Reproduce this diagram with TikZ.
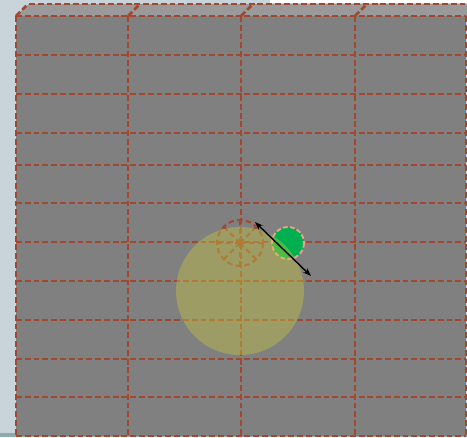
\documentclass[tikz,border=0pt]{standalone}
\usetikzlibrary{arrows.meta}
\definecolor{bgblue}{RGB}{200,211,218}
\definecolor{floorteal}{RGB}{140,172,172}
\definecolor{cellgrey}{RGB}{128,128,128}
\definecolor{topgrey}{RGB}{154,154,154}
\definecolor{brickred}{RGB}{160,72,48}
\definecolor{haloyellow}{RGB}{200,200,60}
\definecolor{markgreen}{RGB}{0,176,80}
\definecolor{rimpink}{RGB}{240,160,140}

\tikzset{
  gridline/.style={brickred, line width=2.3pt, dash pattern=on 5pt off 2.5pt},
  rangeline/.style={brickred, line width=1.8pt, dash pattern=on 4.5pt off 3pt}
}

\begin{document}
\begin{tikzpicture}[x=0.03cm, y=-0.03cm]
        \useasboundingbox (0,0) rectangle (467,437);
        % Background
        \fill[bgblue] (0,0) rectangle (467,437);
        \fill[white] (270,0) rectangle (467,3);
        \fill[floorteal] (0,433) rectangle (467,437);
        
        % Top face and front face
        \fill[topgrey] (16,16) -- (29,4) -- (467,4) -- (467,16) -- cycle;
        \fill[cellgrey] (16,16) rectangle (466,436);
        
        % Grid
        \foreach \y in {16,55,94,133,165,203,242,281,320,359,397,436}
            \draw[gridline] (16,\y) -- (466,\y);
        \foreach \x in {16,128,241,355,466}
            \draw[gridline] (\x,16) -- (\x,436);
        \draw[gridline] (29,4) -- (467,4);
        \foreach \x in {16,128,241,355}
            \draw[gridline] (\x,16) -- (\x+12,4);
        
        % Range marker
        \coordinate (centre) at (240,243);
        \draw[rangeline] (centre) circle (23);
        \foreach \a in {0,45,...,315}
            \draw[rangeline] (centre) -- ++(\a:23);
        
        % Target and halo
        \coordinate (target) at (288,243);
        \fill[markgreen] (target) circle (16);
        \draw[rimpink, line width=1.6pt, dash pattern=on 4pt off 2pt] (target) circle (16);
        \fill[haloyellow, opacity=0.4] (240,291) circle (64);
        
        % Distance
        \draw[{Stealth[length=7pt, width=5pt]}-{Stealth[length=7pt, width=5pt]}, line width=1.2pt] (255,222) -- (311,276);
    \end{tikzpicture}
\end{document}
